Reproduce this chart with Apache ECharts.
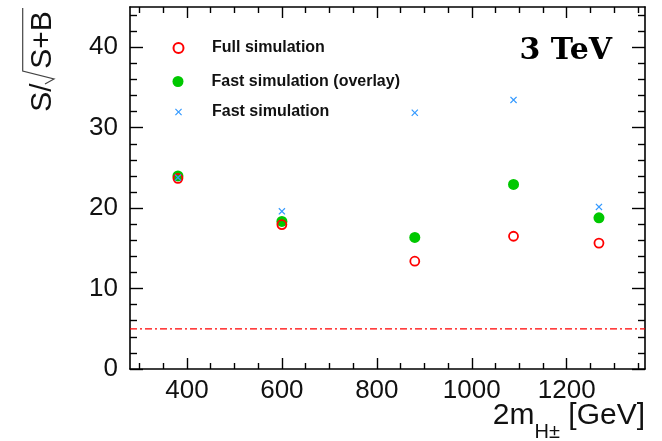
<!DOCTYPE html>
<html>
<head>
<meta charset="utf-8">
<script src="https://cdn.jsdelivr.net/npm/echarts@6/dist/echarts.min.js"></script>
<style>html,body{margin:0;padding:0;background:#fff}#c{width:662px;height:441px}</style>
</head>
<body>
<div id="c"></div>
<script>
// ---- data ----
const masses = [381, 600, 880, 1088, 1268];               // 2m_H± [GeV]
const fullSim = [23.7, 17.95, 13.4, 16.5, 15.65];         // Full simulation
const fastOverlay = [24.0, 18.35, 16.35, 22.95, 18.8];    // Fast simulation (overlay)
const fastSim = [23.8, 19.6, 31.85, 33.45, 20.15];        // Fast simulation
const threshold = 5;                                      // dash-dotted reference line
const seriesNames = ['Full simulation', 'Fast simulation (overlay)', 'Fast simulation'];
const energyLabel = '3 TeV';
// ---- axes / ticks ----
const xRange = [280, 1365];
const yRange = [0, 45];
const xMajorTicks = [400, 600, 800, 1000, 1200];
const xMinorTicks = [300, 350, 450, 500, 550, 650, 700, 750, 850, 900, 950, 1050, 1100, 1150, 1250, 1300, 1350];
const yMajorTicks = [0, 10, 20, 30, 40];
const yMinorTicks = [2, 4, 6, 8, 12, 14, 16, 18, 22, 24, 26, 28, 32, 34, 36, 38, 42, 44];

const pairs = ys => masses.map((m, i) => [m, ys[i]]);
const FONT = 'Liberation Sans';
const gridRect = {left: 130, right: 17, top: 7, bottom: 72, containLabel: false, outerBoundsMode: 'none'};
const lineStyle = {color: '#000', width: 1.6};

function axis(kind, pos, grid, ticks, len, opts) {
  const range = kind === 'x' ? xRange : yRange;
  return Object.assign({
    type: 'value', gridIndex: grid, position: pos, min: range[0], max: range[1],
    splitLine: {show: false},
    axisLine: {show: grid === 0, onZero: false, lineStyle: lineStyle},
    axisTick: {show: true, inside: true, length: len, customValues: ticks, lineStyle: {color: '#000', width: 1.4}},
    axisLabel: {show: false}
  }, opts || {});
}

const chart = echarts.init(document.getElementById('c'), null, {renderer: 'canvas'});
const crossPath = 'path://M0,1.2 L1.2,0 L5,3.8 L8.8,0 L10,1.2 L6.2,5 L10,8.8 L8.8,10 L5,6.2 L1.2,10 L0,8.8 L3.8,5 Z';

function legend(name, left, centerY, h) {
  return {
    data: [name], left: left, top: centerY - 9, orient: 'vertical', padding: 0,
    itemWidth: 57, itemHeight: h, selectedMode: false,
    textStyle: {fontFamily: FONT, fontWeight: 'bold', fontSize: 16, color: '#111'}
  };
}

chart.setOption({
  animation: false,
  backgroundColor: '#fff',
  grid: [Object.assign({}, gridRect), Object.assign({}, gridRect)],
  legend: [legend(seriesNames[0], 172.5, 49, 10), legend(seriesNames[1], 172.5, 82.5, 11), legend(seriesNames[2], 175, 113, 7)],
  xAxis: [
    axis('x', 'bottom', 0, xMajorTicks, 11, {
      axisLabel: {show: true, customValues: xMajorTicks, margin: 9, fontFamily: FONT, fontSize: 26, color: '#111',
        formatter: v => String(v)}
    }),
    axis('x', 'top', 0, xMajorTicks, 11),
    axis('x', 'bottom', 1, xMinorTicks, 6),
    axis('x', 'top', 1, xMinorTicks, 6)
  ],
  yAxis: [
    axis('y', 'left', 0, yMajorTicks, 13, {
      axisLabel: {show: true, customValues: yMajorTicks, margin: 12, fontFamily: FONT, fontSize: 26, color: '#111',
        formatter: v => String(v)}
    }),
    axis('y', 'right', 0, yMajorTicks, 13),
    axis('y', 'left', 1, yMinorTicks, 7),
    axis('y', 'right', 1, yMinorTicks, 7)
  ],
  series: [
    {
      name: 'threshold', type: 'line', xAxisIndex: 0, yAxisIndex: 0,
      data: [[xRange[0], threshold], [xRange[1], threshold]], symbol: 'none', silent: true,
      lineStyle: {color: '#ff0000', width: 1.2, type: [7, 3, 2, 3]}, z: 1
    },
    {
      name: seriesNames[1], type: 'scatter', xAxisIndex: 0, yAxisIndex: 0,
      data: pairs(fastOverlay), symbol: 'circle', symbolSize: 11,
      itemStyle: {color: '#00c800', opacity: 1}
    },
    {
      name: seriesNames[0], type: 'scatter', xAxisIndex: 0, yAxisIndex: 0,
      data: pairs(fullSim), symbol: 'circle', symbolSize: 9,
      itemStyle: {color: 'rgba(255,255,255,0)', borderColor: '#ff0000', borderWidth: 1.8, opacity: 1}
    },
    {
      name: seriesNames[2], type: 'scatter', xAxisIndex: 0, yAxisIndex: 0,
      data: pairs(fastSim), symbol: crossPath, symbolSize: 7,
      itemStyle: {color: '#3399ff', opacity: 1}
    }
  ],
  graphic: [
    {type: 'text', x: 612, y: 51, style: {text: energyLabel, align: 'right', verticalAlign: 'middle',
      fontFamily: 'DejaVu Serif', fontWeight: 'bold', fontSize: 30, fill: '#000'}},
    {type: 'text', x: 645, y: 442, style: {
      text: '{a|2m}{s|H±}{a| [GeV]}', align: 'right', verticalAlign: 'bottom',
      rich: {
        a: {fontFamily: FONT, fontSize: 30, fill: '#111', lineHeight: 30, verticalAlign: 'bottom', padding: [0, 0, 11, 0]},
        s: {fontFamily: FONT, fontSize: 20, fill: '#111', lineHeight: 20, verticalAlign: 'bottom'}
      }}},
    {type: 'text', x: 42.5, y: 97.5, rotation: Math.PI / 2, style: {text: 'S/', align: 'center', verticalAlign: 'middle',
      fontFamily: FONT, fontSize: 30, fill: '#111'}},
    {type: 'text', x: 42.5, y: 40, rotation: Math.PI / 2, style: {text: 'S+B', align: 'center', verticalAlign: 'middle',
      fontFamily: FONT, fontSize: 30, fill: '#111'}},
    {type: 'polyline', shape: {points: [[45, 84], [54, 79], [22.7, 71], [22.7, 8]]},
      style: {stroke: '#444', lineWidth: 1.2, fill: null}}
  ]
});
</script>
</body>
</html>
